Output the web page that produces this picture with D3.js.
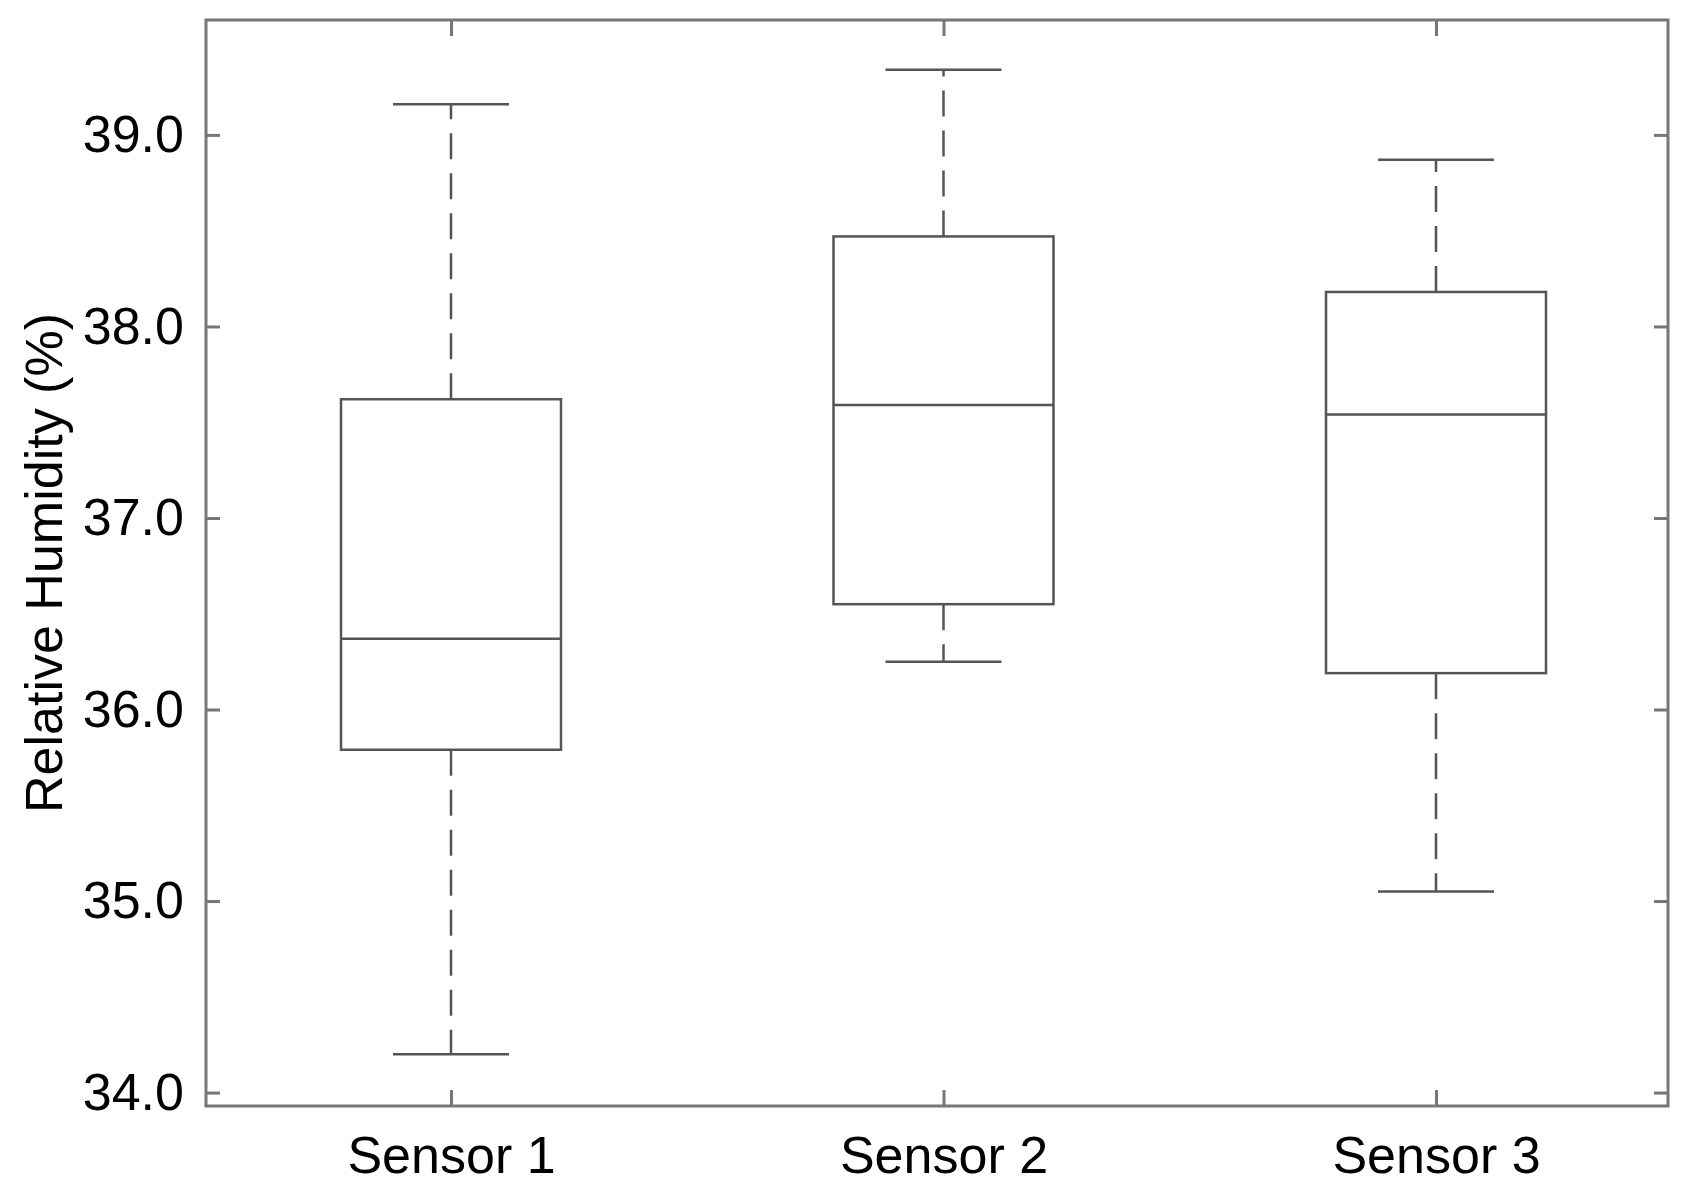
<!DOCTYPE html>
<html><head><meta charset="UTF-8">
<script src="https://d3js.org/d3.v7.min.js"></script>
<style>body{margin:0;background:#fff}text{font-family:"Liberation Sans",Arial,sans-serif}</style>
</head><body><div id="svg"></div>
<script>
const sensors = ["Sensor 1", "Sensor 2", "Sensor 3"]
const whiskerLow = [34.2, 36.25, 35.05]
const q1 = [35.79, 36.55, 36.19]
const median = [36.37, 37.59, 37.54]
const q3 = [37.62, 38.47, 38.18]
const whiskerHigh = [39.16, 39.34, 38.87]
const yTicks = [34, 35, 36, 37, 38, 39]

const W = 1695, H = 1192
const plotLeft = 206, plotRight = 1668, plotTop = 20, plotBottom = 1106
const svg = d3.select("#svg").append("svg").attr("width", W).attr("height", H)

const x = d3.scalePoint().domain(sensors).range([451, 1436])
const y = d3.scaleLinear().domain([33.93, 39.6]).range([plotBottom, plotTop])
const axisColor = "#777", lineColor = "#555"

// ticks inside on all sides
svg.append("g").attr("transform", `translate(${plotLeft},0)`)
  .call(d3.axisLeft(y).tickValues(yTicks).tickSize(-14).tickPadding(22))
  .call(g => { g.select(".domain").remove(); g.selectAll("line").attr("stroke", axisColor).attr("stroke-width", 3)
    g.selectAll("text").attr("font-size", 52).attr("fill", "#000") })
svg.append("g").attr("transform", `translate(${plotRight},0)`)
  .call(d3.axisRight(y).tickValues(yTicks).tickSize(-14).tickFormat(""))
  .call(g => { g.select(".domain").remove(); g.selectAll("line").attr("stroke", axisColor).attr("stroke-width", 3) })
svg.append("g").attr("transform", `translate(0,${plotBottom})`)
  .call(d3.axisBottom(x).tickSize(-16).tickPadding(30))
  .call(g => { g.select(".domain").remove(); g.selectAll("line").attr("stroke", axisColor).attr("stroke-width", 3)
    g.selectAll("text").attr("font-size", 52).attr("fill", "#000") })
svg.append("g").attr("transform", `translate(0,${plotTop})`)
  .call(d3.axisTop(x).tickSize(-16).tickFormat(""))
  .call(g => { g.select(".domain").remove(); g.selectAll("line").attr("stroke", axisColor).attr("stroke-width", 3) })
svg.append("rect").attr("x", plotLeft).attr("y", plotTop).attr("width", plotRight - plotLeft).attr("height", plotBottom - plotTop)
  .attr("fill", "none").attr("stroke", axisColor).attr("stroke-width", 3)

svg.append("text").attr("transform", `translate(62,${(plotTop + plotBottom) / 2}) rotate(-90)`)
  .attr("text-anchor", "middle").attr("font-size", 52).text("Relative Humidity (%)")

const boxW = 220, capW = 116
const g = svg.append("g").attr("stroke", lineColor).attr("stroke-width", 2.5).attr("fill", "none")
sensors.forEach((s, i) => {
  const cx = x(s)
  g.append("line").attr("x1", cx).attr("x2", cx).attr("y1", y(q3[i])).attr("y2", y(whiskerHigh[i])).attr("stroke-dasharray", "26,14")
  g.append("line").attr("x1", cx).attr("x2", cx).attr("y1", y(q1[i])).attr("y2", y(whiskerLow[i])).attr("stroke-dasharray", "26,14")
  g.append("line").attr("x1", cx - capW / 2).attr("x2", cx + capW / 2).attr("y1", y(whiskerHigh[i])).attr("y2", y(whiskerHigh[i]))
  g.append("line").attr("x1", cx - capW / 2).attr("x2", cx + capW / 2).attr("y1", y(whiskerLow[i])).attr("y2", y(whiskerLow[i]))
  g.append("rect").attr("x", cx - boxW / 2).attr("y", y(q3[i])).attr("width", boxW).attr("height", y(q1[i]) - y(q3[i]))
  g.append("line").attr("x1", cx - boxW / 2).attr("x2", cx + boxW / 2).attr("y1", y(median[i])).attr("y2", y(median[i]))
})
</script></body></html>
